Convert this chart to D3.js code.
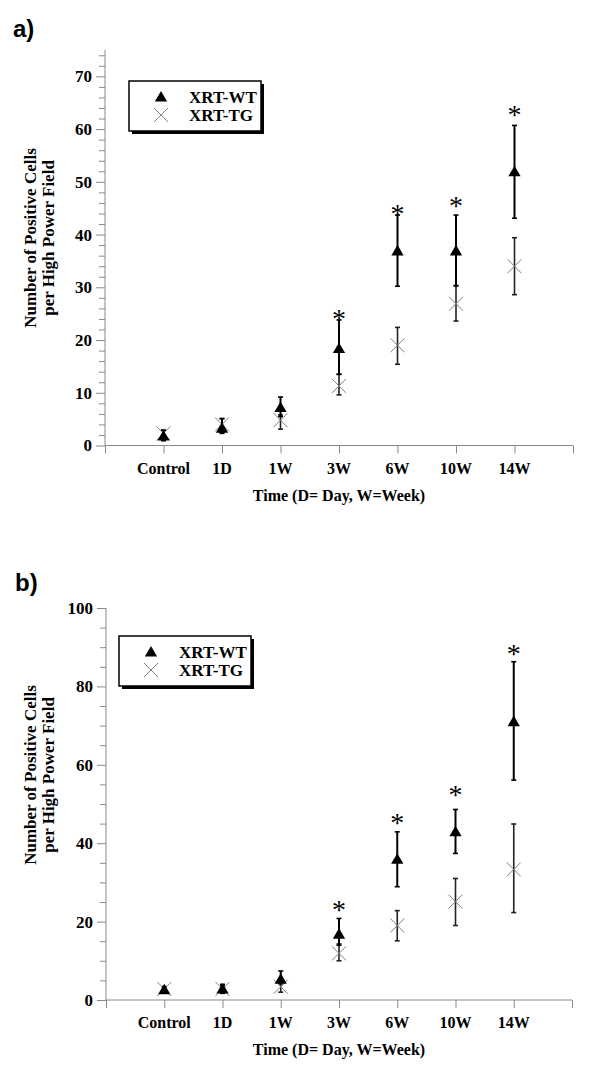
<!DOCTYPE html>
<html>
<head>
  <meta charset="utf-8">
  <script src="https://d3js.org/d3.v7.min.js"></script>
  <style>
    body { margin: 0; background: #fff; }
    .panel-tag { font: bold 24px "Liberation Sans", Arial, sans-serif; }
    .tick-label { font: bold 17px "Liberation Serif", "Times New Roman", serif; }
    .cat-label { font: bold 16px "Liberation Serif", "Times New Roman", serif; text-anchor: middle; }
    .axis-title { font: bold 16px "Liberation Serif", "Times New Roman", serif; text-anchor: middle; }
    .y-title { font: bold 17px "Liberation Serif", "Times New Roman", serif; text-anchor: middle; }
    .legend-text { font: bold 17px "Liberation Serif", "Times New Roman", serif; }
    .star { font: 28px "Liberation Serif", "Times New Roman", serif; text-anchor: middle; }
  </style>
</head>
<body>
  <svg width="600" height="1067"></svg>
  <script>
    var categories = ["Control", "1D", "1W", "3W", "6W", "10W", "14W"];

    // panel a
    var wtA = [1.8, 3.3, 7.2, 18.4, 36.9, 36.9, 51.9];
    var wtAHi = [2.9, 5.1, 9.2, 23.8, 43.7, 43.7, 60.7];
    var wtALo = [0.9, 2.3, 5.5, 13.5, 30.2, 30.3, 43.1];
    var tgA = [2.3, 4.0, 4.8, 11.3, 19.0, 26.9, 34.0];
    var tgAHi = [2.9, 5.1, 5.8, 13.5, 22.4, 30.3, 39.4];
    var tgALo = [1.5, 2.5, 3.1, 9.6, 15.4, 23.6, 28.6];
    var starCatsA = ["3W", "6W", "10W", "14W"];
    var starA = [25.5, 45.5, 47.0, 64.2];

    // panel b
    var wtB = [2.6, 2.8, 5.3, 16.8, 35.9, 42.9, 71.0];
    var wtBHi = [3.4, 4.0, 7.4, 20.8, 42.9, 48.6, 86.3];
    var wtBLo = [1.9, 1.7, 4.1, 14.0, 28.9, 37.4, 56.1];
    var tgB = [2.8, 2.8, 3.4, 11.9, 19.0, 25.1, 33.3];
    var tgBHi = [3.4, 3.6, 4.7, 14.3, 22.8, 31.0, 44.9];
    var tgBLo = [2.1, 2.0, 2.0, 10.0, 15.1, 19.0, 22.3];
    var starCatsB = ["3W", "6W", "10W", "14W"];
    var starB = [25.1, 47.2, 54.4, 90.4];

    var seriesNames = ["XRT-WT", "XRT-TG"];
    var xTitle = "Time (D= Day, W=Week)";
    var yTitle = ["Number of Positive Cells", "per High Power Field"];

    var svg = d3.select("svg");
    var axisColor = "#8a8a8a";
    var tgColor = "#808080";

    var triangle = d3.symbol().type(d3.symbolTriangle).size(65);
    var cross = "M-7,-7L7,7M-7,7L7,-7";

    function drawPanel(p) {
      var x = d3.scaleLinear().domain([0, categories.length + 1]).range([p.left, p.right]);
      var y = d3.scaleLinear().domain([0, p.yMax]).range([p.bottom, p.top]);
      var g = svg.append("g");

      g.append("text").attr("class", "panel-tag").attr("x", p.tagX).attr("y", p.tagY).text(p.tag);

      // y axis
      var yAxis = g.append("g").attr("transform", "translate(" + p.left + ",0)")
        .call(d3.axisLeft(y).tickValues(d3.range(0, p.yMax + 0.01, p.major)).tickSize(9).tickPadding(4));
      g.append("g").attr("transform", "translate(" + p.left + ",0)")
        .call(d3.axisLeft(y).tickValues(d3.range(0, p.yMax + 0.01, p.minor).filter(v => Math.abs(v % p.major) > 1e-6)).tickSize(6).tickFormat(""))
        .select(".domain").remove();
      yAxis.selectAll("text").attr("class", "tick-label").attr("fill", "#000");

      // x axis
      var xAxis = g.append("g").attr("transform", "translate(0," + p.bottom + ")")
        .call(d3.axisBottom(x).tickValues(d3.range(0, categories.length + 2)).tickSize(8).tickFormat(""));
      g.selectAll(".domain, .tick line").attr("stroke", axisColor);
      xAxis.select(".domain").attr("d", "M" + p.left + ",0H" + p.right);
      yAxis.select(".domain").attr("d", "M0," + p.top + "V" + p.bottom);

      g.selectAll(".cat-label").data(categories).enter().append("text")
        .attr("class", "cat-label")
        .attr("x", (d, i) => x(i + 1))
        .attr("y", p.bottom + 28)
        .text(d => d);

      g.append("text").attr("class", "axis-title")
        .attr("x", x((categories.length + 1) / 2))
        .attr("y", p.bottom + 55)
        .text(xTitle);

      g.selectAll(".ytitle").data(yTitle).enter().append("text")
        .attr("class", "y-title")
        .attr("transform", (d, i) => "translate(" + (p.yTitleX + i * 18) + "," + p.yTitleY + ") rotate(-90)")
        .text(d => d);

      // error bars
      function errorBars(lo, hi, color, width) {
        var eg = g.append("g");
        categories.forEach(function(c, i) {
          var cx = x(i + 1);
          eg.append("line").attr("x1", cx).attr("x2", cx).attr("y1", y(lo[i])).attr("y2", y(hi[i]))
            .attr("stroke", color).attr("stroke-width", width);
          [lo[i], hi[i]].forEach(function(v) {
            eg.append("line").attr("x1", cx - 2.5).attr("x2", cx + 2.5).attr("y1", y(v)).attr("y2", y(v))
              .attr("stroke", color).attr("stroke-width", 1.6);
          });
        });
      }
      errorBars(p.tgLo, p.tgHi, "#222", 1.6);
      errorBars(p.wtLo, p.wtHi, "#000", 2);

      // TG markers (x)
      g.selectAll(".tg").data(p.tg).enter().append("path")
        .attr("transform", (d, i) => "translate(" + x(i + 1) + "," + y(d) + ")")
        .attr("d", cross)
        .attr("stroke", tgColor).attr("stroke-width", 1).attr("fill", "none");

      // WT markers (triangle)
      g.selectAll(".wt").data(p.wt).enter().append("path")
        .attr("transform", (d, i) => "translate(" + x(i + 1) + "," + (y(d) + 1) + ")")
        .attr("d", triangle).attr("fill", "#000");

      // significance stars
      g.selectAll(".star").data(p.stars).enter().append("text")
        .attr("class", "star")
        .attr("x", (d, i) => x(categories.indexOf(p.starCats[i]) + 1))
        .attr("y", d => y(d) + 17)
        .text("*");

      // legend
      var lg = g.append("g").attr("transform", "translate(" + p.legX + "," + p.legY + ")");
      lg.append("rect").attr("x", 3).attr("y", 3).attr("width", 132).attr("height", 50).attr("fill", "#000");
      lg.append("rect").attr("x", 0).attr("y", 0).attr("width", 132).attr("height", 50)
        .attr("fill", "#fff").attr("stroke", "#000").attr("stroke-width", 1.5);
      lg.append("path").attr("transform", "translate(32,17)").attr("d", triangle).attr("fill", "#000");
      lg.append("path").attr("transform", "translate(32,34)").attr("d", cross)
        .attr("stroke", tgColor).attr("stroke-width", 1);
      seriesNames.forEach(function(s, i) {
        lg.append("text").attr("class", "legend-text").attr("x", 60).attr("y", 22 + i * 18).text(s);
      });
    }

    drawPanel({
      tag: "a)", tagX: 13, tagY: 37,
      left: 105, right: 573, top: 50, bottom: 445.5, yMax: 75, major: 10, minor: 2,
      wt: wtA, wtHi: wtAHi, wtLo: wtALo, tg: tgA, tgHi: tgAHi, tgLo: tgALo,
      starCats: starCatsA, stars: starA,
      yTitleX: 36, yTitleY: 238, legX: 129, legY: 81
    });

    drawPanel({
      tag: "b)", tagX: 15, tagY: 591,
      left: 106, right: 572, top: 608, bottom: 1000, yMax: 100, major: 20, minor: 5,
      wt: wtB, wtHi: wtBHi, wtLo: wtBLo, tg: tgB, tgHi: tgBHi, tgLo: tgBLo,
      starCats: starCatsB, stars: starB,
      yTitleX: 36, yTitleY: 775, legX: 119, legY: 636
    });
  </script>
</body>
</html>
